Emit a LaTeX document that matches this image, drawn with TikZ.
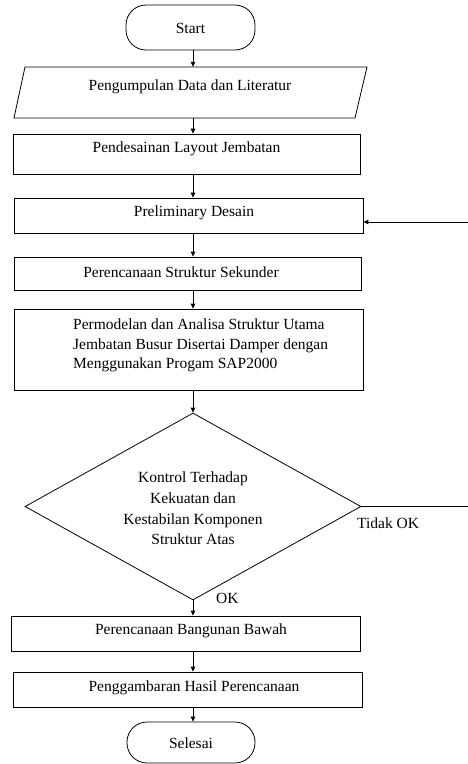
\documentclass[tikz,border=0pt]{standalone}
\usepackage{fontspec}
\setmainfont{Liberation Serif}
\newfontfamily\tms{Liberation Serif}
\usetikzlibrary{shapes.geometric,arrows.meta}
\begin{document}
\begin{tikzpicture}[x=1pt,y=-1pt,
  ln/.style={line width=0.8pt},
  box/.style={draw, ln, rectangle, inner sep=0pt},
  term/.style={draw, ln, rectangle, rounded corners=20pt, inner sep=0pt},
  shadow/.style={draw=none, rectangle, inner sep=0pt},
  txt/.style={inner sep=0pt, font=\tms\fontsize{15.5}{19.5}\selectfont},
  arr/.style={ln, -{Triangle[length=5pt,width=4.5pt]}}
]
\useasboundingbox (0,0) rectangle (468,764);
\coordinate (col) at (193,0);
% terminals and boxes
\node[term, minimum width=129pt, minimum height=45pt] (st) at (190.5,27.5) {};
\node[txt] (stT) at (190.5,28) {Start};

\node[shadow, minimum width=341pt, minimum height=51pt] (in) at (190.5,92.5) {};
\draw[ln] (25,67) -- (367,67) -- (355,118) -- (14,118) -- cycle;
\node[txt] (inT) at (190,87) {Pengumpulan Data dan Literatur};

\node[box, minimum width=347pt, minimum height=40pt] (b2) at (186.5,154) {};
\node[txt] (b2T) at (186.5,149) {Pendesainan Layout Jembatan};

\node[box, minimum width=349pt, minimum height=35pt] (b3) at (188.5,215.5) {};
\node[txt] (b3T) at (194,213) {Preliminary Desain};

\node[box, minimum width=347pt, minimum height=33pt] (b4) at (187.5,273.5) {};
\node[txt] (b4T) at (181,272) {Perencanaan Struktur Sekunder};

\node[box, minimum width=349pt, minimum height=81pt] (b5) at (188.5,349.5) {};
\node[txt, anchor=west, align=left] (b5T) at (73,345.5) {Permodelan dan Analisa Struktur Utama\\Jembatan Busur Disertai Damper dengan\\Menggunakan Progam SAP2000};

\node[diamond, draw, ln, inner sep=0pt, minimum width=336pt, minimum height=187pt] (dm) at (193,506.5) {};
\node[txt, align=center, font=\tms\fontsize{15.5}{20.7}\selectfont] (dmT) at (193,508.5) {Kontrol Terhadap\\Kekuatan dan\\Kestabilan Komponen\\Struktur Atas};

\node[box, minimum width=349pt, minimum height=35pt] (b6) at (185.5,633.5) {};
\node[txt] (b6T) at (191,631) {Perencanaan Bangunan Bawah};

\node[box, minimum width=349pt, minimum height=35pt] (b7) at (187.5,689.5) {};
\node[txt] (b7T) at (194,688) {Penggambaran Hasil Perencanaan};

\node[term, minimum width=128pt, minimum height=41pt] (end) at (191,742.5) {};
\node[txt] (endT) at (191,743) {Selesai};

% labels
\node[txt, anchor=west] (tok) at (357,523) {Tidak OK};
\node[txt, anchor=west] (ok) at (216,598) {OK};

% connectors
\draw[arr] (st.south -| col) -- (in.north -| col);
\draw[arr] (in.south -| col) -- (b2.north -| col);
\draw[arr] (b2.south -| col) -- (b3.north -| col);
\draw[arr] (b3.south -| col) -- (b4.north -| col);
\draw[arr] (b4.south -| col) -- (b5.north -| col);
\draw[arr] (b5.south -| col) -- (dm.north);
\draw[arr] (dm.south) -- (b6.north -| col);
\draw[arr] (b6.south -| col) -- (b7.north -| col);
\draw[arr] (b7.south -| col) -- (end.north -| col);

\coordinate (fbB) at (471,506.5);
\coordinate (fbT) at (471,222);
\draw[arr] (dm.east) -- (fbB) -- (fbT) -- (b3.east |- fbT);
\end{tikzpicture}
\end{document}
